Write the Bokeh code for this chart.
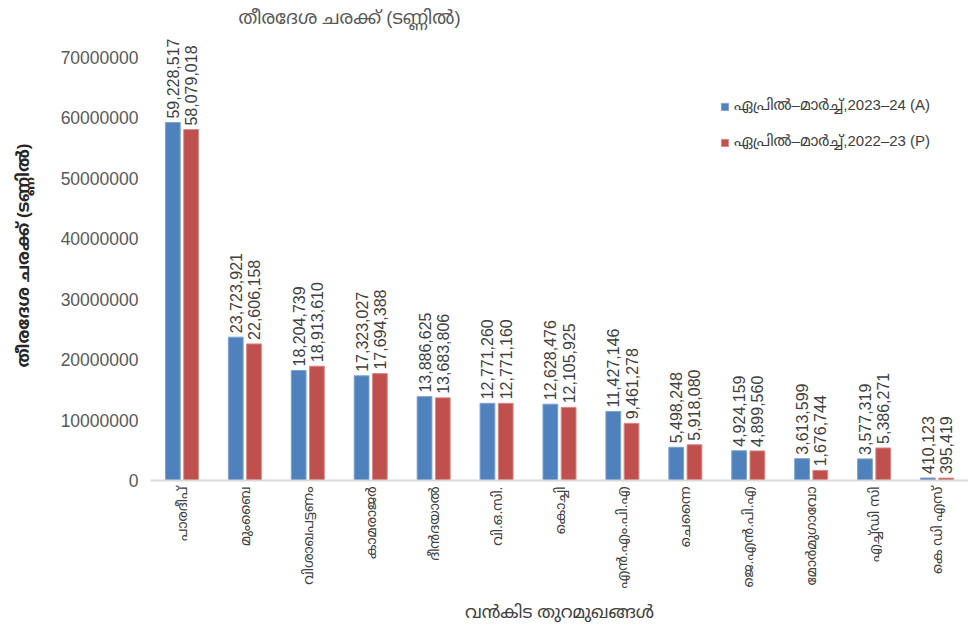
import math
from bokeh.plotting import figure
from bokeh.models import ColumnDataSource, FactorRange, Range1d, Legend, LegendItem, Title, NumeralTickFormatter
from bokeh.transform import dodge
from bokeh.core.properties import value
from bokeh.embed import file_html
from bokeh.resources import INLINE

ports = ["പാരദീപ്", "മുംബൈ", "വിശാഖപട്ടണം", "കാമരാജർ", "ദീൻദയാൽ", "വി.ഒ.സി.", "കൊച്ചി",
         "എൻ.എം.പി.എ", "ചെന്നൈ", "ജെ.എൻ.പി.എ", "മോർമുഗാവോ", "എച്ച്ഡി സി", "കെ ഡി എസ്"]
cargo_2023_24 = [59228517, 23723921, 18204739, 17323027, 13886625, 12771260, 12628476,
                 11427146, 5498248, 4924159, 3613599, 3577319, 410123]
cargo_2022_23 = [58079018, 22606158, 18913610, 17694388, 13683806, 12771160, 12105925,
                 9461278, 5918080, 4899560, 1676744, 5386271, 395419]
series_names = ["ഏപ്രിൽ–മാർച്ച്,2023–24 (A)", "ഏപ്രിൽ–മാർച്ച്,2022–23 (P)"]
title_text = "തീരദേശ ചരക്ക് (ടണ്ണിൽ)"
y_title = "തീരദേശ ചരക്ക് (ടണ്ണിൽ)"
x_title = "വൻകിട തുറമുഖങ്ങൾ"
y_ticks = [0, 10000000, 20000000, 30000000, 40000000, 50000000, 60000000, 70000000]

BLUE = "#4F81BD"
RED = "#C0504D"
FONT = "Liberation Sans, Noto Sans Malayalam, sans-serif"

src = ColumnDataSource(dict(
    port=ports,
    a=cargo_2023_24,
    b=cargo_2022_23,
    a_lbl=[f"{v:,}" for v in cargo_2023_24],
    b_lbl=[f"{v:,}" for v in cargo_2022_23],
))

p = figure(x_range=FactorRange(*ports, range_padding=0), y_range=Range1d(0, 74470000),
           width=968, height=624, output_backend="svg", toolbar_location=None,
           min_border_left=150, min_border_right=0, min_border_top=30, min_border_bottom=144)
p.outline_line_color = None
p.xgrid.grid_line_color = None
p.ygrid.grid_line_color = None

r1 = p.vbar(x=dodge("port", -0.145, range=p.x_range), top="a", width=0.235, source=src,
            fill_color=BLUE, line_color="#7FA3D1", line_width=1)
r2 = p.vbar(x=dodge("port", 0.145, range=p.x_range), top="b", width=0.235, source=src,
            fill_color=RED, line_color="#D88A88", line_width=1)

for key, off in (("a_lbl", -0.145), ("b_lbl", 0.145)):
    p.text(x=dodge("port", off, range=p.x_range), y=key[0], text=key, source=src,
           angle=math.pi / 2, text_align="left", text_baseline="middle", y_offset=-4,
           text_font=value(FONT), text_font_size="16px", text_color="#404040")

p.yaxis.ticker = y_ticks
p.yaxis.formatter = NumeralTickFormatter(format="0")
p.yaxis.axis_line_color = None
p.yaxis.major_tick_line_color = None
p.yaxis.minor_tick_line_color = None
p.yaxis.major_tick_out = 0
p.yaxis.major_tick_in = 0
p.yaxis.major_label_text_font = FONT
p.yaxis.major_label_text_font_size = "17.5px"
p.yaxis.major_label_text_color = "#595959"
p.yaxis.major_label_standoff = 12
p.yaxis.axis_label = y_title
p.yaxis.axis_label_text_font = FONT
p.yaxis.axis_label_text_font_size = "17px"
p.yaxis.axis_label_text_font_style = "bold"
p.yaxis.axis_label_text_color = "#262626"
p.yaxis.axis_label_standoff = 25

p.xaxis.axis_line_color = "#D9D9D9"
p.xaxis.axis_line_width = 2
p.xaxis.major_tick_line_color = None
p.xaxis.minor_tick_line_color = None
p.xaxis.major_tick_out = 0
p.xaxis.major_tick_in = 0
p.xaxis.major_label_orientation = math.pi / 2
p.xaxis.major_label_text_font = FONT
p.xaxis.major_label_text_font_size = "14px"
p.xaxis.major_label_text_color = "#404040"
p.xaxis.major_label_standoff = 6
p.xaxis.axis_label = x_title
p.xaxis.axis_label_text_font = FONT
p.xaxis.axis_label_text_font_size = "17.5px"
p.xaxis.axis_label_text_font_style = "normal"
p.xaxis.axis_label_text_color = "#404040"
p.xaxis.axis_label_standoff = 10

t = Title(text=title_text, align="left", offset=88, text_font=FONT, text_font_size="18.5px",
          text_font_style="normal", text_color="#595959", standoff=6)
p.add_layout(t, "above")

legend = Legend(items=[LegendItem(label=series_names[0], renderers=[r1]),
                       LegendItem(label=series_names[1], renderers=[r2])],
                location=(570, 328), border_line_color=None, background_fill_alpha=0,
                label_text_font=FONT, label_text_font_size="15px", label_text_color="#404040",
                glyph_width=9, glyph_height=9, spacing=16, padding=4)
p.add_layout(legend, "center")

open("out.html", "w").write(file_html(p, INLINE))
